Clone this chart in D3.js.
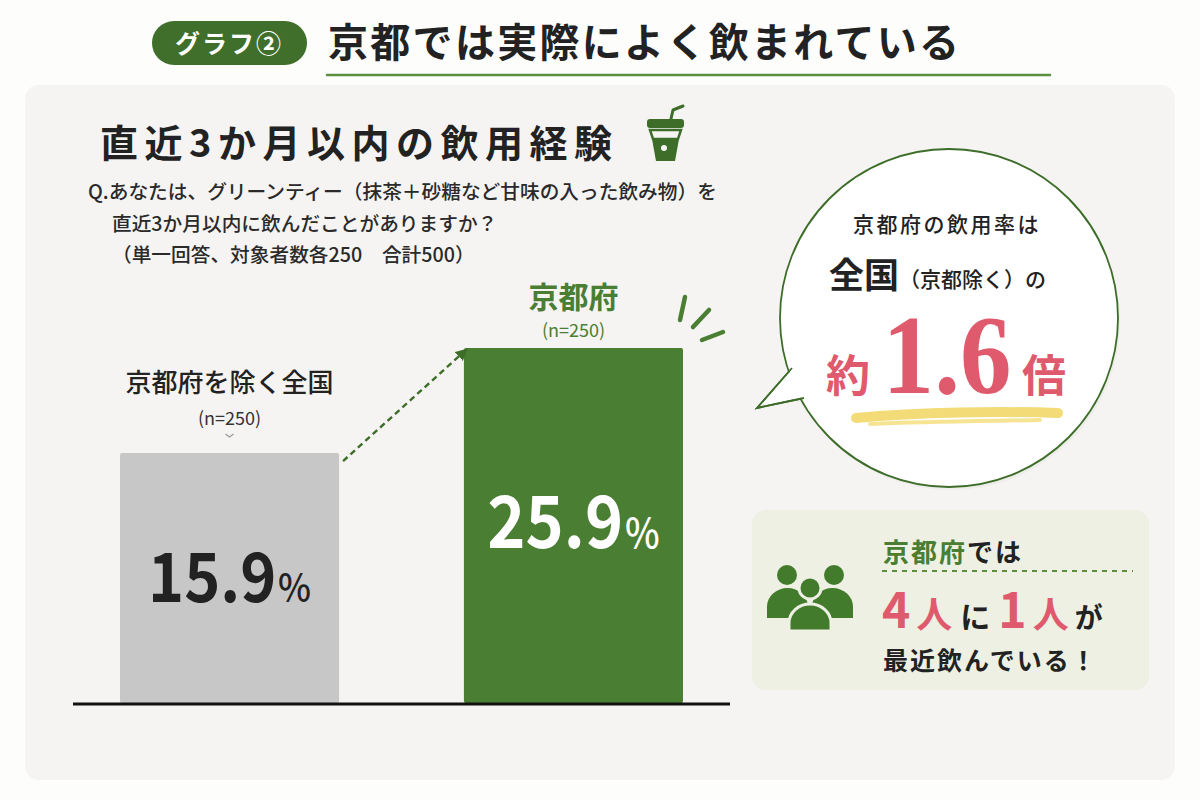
<!DOCTYPE html>
<html><head><meta charset="utf-8">
<script src="https://cdn.jsdelivr.net/npm/d3@7/dist/d3.min.js"></script>
<style>
html,body{margin:0;padding:0;background:#fdfdfc;}
svg{display:block;}
</style></head><body>
<script>
// ---- data ----
const categories = ["京都府を除く全国", "京都府"];
const values = [15.9, 25.9];
const sampleLabels = ["(n=250)", "(n=250)"];
const headerTag = "グラフ②";
const headerTitle = "京都では実際によく飲まれている";
const chartTitle = "直近3か月以内の飲用経験";
const questionLines = [
  "Q.あなたは、グリーンティー（抹茶＋砂糖など甘味の入った飲み物）を",
  "直近3か月以内に飲んだことがありますか？",
  "（単一回答、対象者数各250　合計500）"
];
const ratioLabel = "1.6";
const boxFraction = ["4", "1"];

const W = 1200, H = 800;
const GREEN = "#4a7e33", DARK_GREEN = "#3d6d29", PINK = "#e05a6d", INK = "#222";
const JP = "'Noto Sans CJK JP','Noto Sans',sans-serif";

const svg = d3.select("body").append("svg").attr("width", W).attr("height", H)
  .style("font-family", JP);
svg.append("rect").attr("width", W).attr("height", H).attr("fill", "#fdfdfc");

// header
svg.append("rect").attr("x", 152).attr("y", 21).attr("width", 155).attr("height", 44)
  .attr("rx", 22).attr("fill", "#3f6f2b");
svg.append("text").attr("x", 229).attr("y", 53).attr("text-anchor", "middle")
  .attr("fill", "#fff").attr("font-size", 25).attr("font-weight", 700).attr("letter-spacing", 2).text(headerTag);
svg.append("text").attr("x", 328).attr("y", 57).attr("fill", INK)
  .attr("font-size", 40).attr("font-weight", 700)
  .attr("textLength", 631).attr("lengthAdjust", "spacing").text(headerTitle);
svg.append("line").attr("x1", 327).attr("x2", 1050).attr("y1", 75).attr("y2", 75)
  .attr("stroke", "#5b8f3d").attr("stroke-width", 2.5).attr("stroke-linecap", "round");

// panel
svg.append("rect").attr("x", 25).attr("y", 85).attr("width", 1150).attr("height", 695)
  .attr("rx", 14).attr("fill", "#f5f4f2");

// chart title
svg.append("text").attr("x", 100).attr("y", 157).attr("fill", INK)
  .attr("font-size", 38).attr("font-weight", 700)
  .attr("textLength", 512).attr("lengthAdjust", "spacing").text(chartTitle);

// cup icon
const cup = svg.append("g").attr("fill", DARK_GREEN);
cup.append("path").attr("d", "M670,123 L673,110 L683,106").attr("fill", "none")
  .attr("stroke", DARK_GREEN).attr("stroke-width", 3).attr("stroke-linecap", "round").attr("stroke-linejoin", "round");
cup.append("rect").attr("x", 647).attr("y", 119).attr("width", 37).attr("height", 9).attr("rx", 3);
cup.append("path").attr("d", "M650,130 L681,130 L678,139 L653,139 Z").attr("fill", "none")
  .attr("stroke", DARK_GREEN).attr("stroke-width", 2.5);
cup.append("path").attr("d", "M652,139 L679,139 L675,161 L656,161 Z");
cup.append("circle").attr("cx", 664).attr("cy", 148).attr("r", 3).attr("fill", "#f5f4f2");

// question text
const qx = [88, 112, 112], qy = [199, 231, 262];
questionLines.forEach((t, i) => {
  svg.append("text").attr("x", qx[i]).attr("y", qy[i]).attr("fill", "#2a2a2a")
    .attr("font-size", 19.7).attr("font-weight", 500).text(t);
});

// ---- bars ----
const x = d3.scaleBand().domain(categories).range([120, 683]).paddingInner(0.363).paddingOuter(0);
const y = d3.scaleLinear().domain([-7.9, 25.9]).range([703, 348]);
const barFill = ["#c7c7c7", GREEN];

svg.selectAll("rect.bar").data(values).join("rect").attr("class", "bar")
  .attr("x", (d, i) => x(categories[i])).attr("width", x.bandwidth())
  .attr("y", d => y(d)).attr("height", d => y(y.domain()[0]) - y(d))
  .attr("rx", 2).attr("fill", (d, i) => barFill[i]);

// baseline
svg.append("line").attr("x1", 73).attr("x2", 730).attr("y1", y(y.domain()[0]) + 1).attr("y2", y(y.domain()[0]) + 1)
  .attr("stroke", "#111").attr("stroke-width", 3);

// category labels
const cx = i => x(categories[i]) + x.bandwidth() / 2;
svg.append("text").attr("x", cx(0)).attr("y", y(values[0]) - 61).attr("text-anchor", "middle")
  .attr("fill", INK).attr("font-size", 26).attr("font-weight", 500).text(categories[0]);
svg.append("text").attr("x", cx(0)).attr("y", y(values[0]) - 28).attr("text-anchor", "middle")
  .attr("fill", "#333").attr("font-size", 18).text(sampleLabels[0]);
svg.append("path").attr("d", `M${cx(0) - 4},${y(values[0]) - 19} L${cx(0)},${y(values[0]) - 16} L${cx(0) + 4},${y(values[0]) - 19}`)
  .attr("fill", "none").attr("stroke", "#999").attr("stroke-width", 1.3);
svg.append("text").attr("x", cx(1)).attr("y", y(values[1]) - 40).attr("text-anchor", "middle")
  .attr("fill", GREEN).attr("font-size", 30).attr("font-weight", 700).text(categories[1]);
svg.append("text").attr("x", cx(1)).attr("y", y(values[1]) - 11).attr("text-anchor", "middle")
  .attr("fill", GREEN).attr("font-size", 18).text(sampleLabels[1]);

// value labels
const valColor = [INK, "#fff"], valSize = [68, 72], pctSize = [39, 41], valBase = [602, 548];
values.forEach((v, i) => {
  const g = svg.append("g").attr("transform", `translate(${cx(i)},${valBase[i]}) scale(0.9,1)`);
  const t = g.append("text").attr("text-anchor", "middle").attr("fill", valColor[i]).attr("font-weight", 700);
  t.append("tspan").attr("font-size", valSize[i]).text(d3.format(".1f")(v));
  t.append("tspan").attr("font-size", pctSize[i]).attr("font-weight", 500).attr("dx", 2).text("%");
});

// dashed arrow
const ax1 = x(categories[0]) + x.bandwidth() + 4, ay1 = y(values[0]) + 8;
const ax2 = x(categories[1]) + 2, ay2 = y(values[1]) + 2;
svg.append("defs").append("marker").attr("id", "ah").attr("viewBox", "0 0 10 10")
  .attr("refX", 8).attr("refY", 5).attr("markerWidth", 5).attr("markerHeight", 5).attr("orient", "auto")
  .append("path").attr("d", "M0,0 L10,5 L0,10 Z").attr("fill", DARK_GREEN);
svg.append("line").attr("x1", ax1).attr("y1", ay1).attr("x2", ax2).attr("y2", ay2)
  .attr("stroke", DARK_GREEN).attr("stroke-width", 2.4).attr("stroke-dasharray", "6,4")
  .attr("marker-end", "url(#ah)");

// accent strokes
[[685, 297, 680, 320], [709, 310, 693, 327], [723, 332, 702, 340]].forEach(s => {
  svg.append("line").attr("x1", s[0]).attr("y1", s[1]).attr("x2", s[2]).attr("y2", s[3])
    .attr("stroke", GREEN).attr("stroke-width", 4.5).attr("stroke-linecap", "round");
});

// ---- speech bubble ----
const bcx = 949, bcy = 318, br = 169;
const bubble = svg.append("g");
bubble.append("circle").attr("cx", bcx + 2).attr("cy", bcy + 3).attr("r", br).attr("fill", "#e8e8e3").attr("opacity", 0.6);
bubble.append("path").attr("d", "M792,368 L757,408 L804,398").attr("fill", "#fff")
  .attr("stroke", DARK_GREEN).attr("stroke-width", 1.8);
bubble.append("circle").attr("cx", bcx).attr("cy", bcy).attr("r", br).attr("fill", "#fff")
  .attr("stroke", DARK_GREEN).attr("stroke-width", 1.8);
bubble.append("path").attr("d", "M795,366 L762,404 L806,397 Z").attr("fill", "#fff");
bubble.append("path").attr("d", "M792,368 L757,408 L804,398").attr("fill", "none")
  .attr("stroke", DARK_GREEN).attr("stroke-width", 1.8);

svg.append("text").attr("x", 947).attr("y", 232).attr("text-anchor", "middle").attr("fill", INK)
  .attr("font-size", 21).attr("font-weight", 500).attr("letter-spacing", 2.5).text("京都府の飲用率は");
svg.append("text").attr("x", 829).attr("y", 288).attr("fill", INK)
  .attr("font-size", 35).attr("font-weight", 700).text("全国");
svg.append("text").attr("x", 899).attr("y", 287).attr("fill", INK)
  .attr("font-size", 21).attr("font-weight", 500).text("（京都除く）の");

// yellow highlight
svg.append("path").attr("d", "M856,418 C920,412 1000,411 1058,413").attr("fill", "none")
  .attr("stroke", "#f3dc78").attr("stroke-width", 10).attr("stroke-linecap", "round");
svg.append("path").attr("d", "M870,424 C930,421 990,421 1040,420").attr("fill", "none")
  .attr("stroke", "#f6e493").attr("stroke-width", 4).attr("stroke-linecap", "round");

svg.append("text").attr("x", 826).attr("y", 392).attr("fill", PINK)
  .attr("font-size", 44).attr("font-weight", 700).text("約");
svg.append("g").attr("transform", "translate(947,393) scale(0.92,1)")
  .append("text").attr("text-anchor", "middle").attr("fill", PINK)
  .style("font-family", "'Liberation Serif','DejaVu Serif',serif").attr("font-size", 112).attr("font-weight", 700)
  .text(ratioLabel);
svg.append("text").attr("x", 1022).attr("y", 392).attr("fill", PINK)
  .attr("font-size", 44).attr("font-weight", 700).text("倍");

// ---- info box ----
svg.append("rect").attr("x", 752).attr("y", 510).attr("width", 397).attr("height", 180)
  .attr("rx", 14).attr("fill", "#edf0e3");

// people icon
const ppl = svg.append("g").attr("fill", "#437b2d");
const person = (hx, hy, hr, bx0, bx1, by0, by1, outline) => {
  const g = ppl.append("g");
  const rx = (bx1 - bx0) / 2;
  g.append("path").attr("d", `M${bx0},${by1} L${bx0},${by0 + rx * 0.9} A${rx},${rx * 0.9} 0 0 1 ${bx1},${by0 + rx * 0.9} L${bx1},${by1} Z`)
    .attr("stroke", outline ? "#edf0e3" : "none").attr("stroke-width", 3);
  g.append("circle").attr("cx", hx).attr("cy", hy).attr("r", hr)
    .attr("stroke", outline ? "#edf0e3" : "none").attr("stroke-width", 3);
};
person(787, 575, 10, 767, 808, 588, 618, false);
person(834, 575, 10, 812, 853, 588, 618, false);
person(810, 588, 11, 789, 831, 604, 631, true);

const t1 = svg.append("text").attr("x", 883).attr("y", 562).attr("font-size", 26).attr("font-weight", 700).attr("letter-spacing", 2);
t1.append("tspan").attr("fill", GREEN).text("京都府");
t1.append("tspan").attr("fill", INK).text("では");
svg.append("line").attr("x1", 882).attr("x2", 1133).attr("y1", 571).attr("y2", 571)
  .attr("stroke", "#5b8f3d").attr("stroke-width", 2).attr("stroke-dasharray", "5,5");

const t2 = svg.append("text").attr("x", 882).attr("y", 628).attr("font-weight", 700);
t2.append("tspan").attr("fill", PINK).attr("font-size", 48).text(boxFraction[0]);
t2.append("tspan").attr("fill", PINK).attr("font-size", 36).attr("dx", 6).text("人");
t2.append("tspan").attr("fill", INK).attr("font-size", 30).attr("dx", 8).text("に");
t2.append("tspan").attr("fill", PINK).attr("font-size", 48).attr("dx", 8).text(boxFraction[1]);
t2.append("tspan").attr("fill", PINK).attr("font-size", 36).attr("dx", 6).text("人");
t2.append("tspan").attr("fill", INK).attr("font-size", 28).attr("dx", 6).text("が");

svg.append("text").attr("x", 883).attr("y", 670).attr("fill", INK).attr("font-size", 25)
  .attr("font-weight", 700).attr("letter-spacing", 2).text("最近飲んでいる！");
</script>
</body></html>
